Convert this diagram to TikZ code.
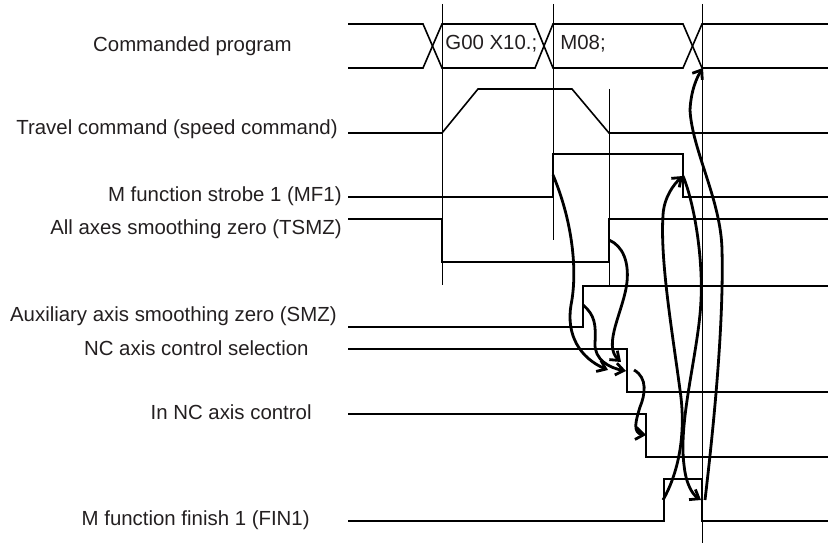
\documentclass[tikz,border=0pt]{standalone}
\usepackage{fontspec}
\setmainfont{Liberation Sans}
\usetikzlibrary{arrows.meta}
\definecolor{ink}{HTML}{231F20}
\tikzset{
  every node/.style={font=\fontsize{10.2}{12}\selectfont,text=ink,inner sep=0pt},
  lbl/.style={anchor=base east},
  val/.style={anchor=base west},
  sig/.style={draw=black,line width=0.8pt},
  guide/.style={draw=black,line width=0.4pt},
  flow/.style={draw=black,line width=1.4pt,-{Straight Barb[length=4pt,width=6pt]}},
}
\begin{document}
\begin{tikzpicture}[x=0.5pt,y=-0.5pt]
\useasboundingbox (0,0) rectangle (828,544);

% signal names
\node[lbl] (prog) at (292,52) {Commanded program};
\node[lbl] (travel) at (338,135) {Travel command (speed command)};
\node[lbl] (mf1) at (342,201.5) {M function strobe 1 (MF1)};
\node[lbl] (tsmz) at (342,234.5) {All axes smoothing zero (TSMZ)};
\node[lbl] (smz) at (337,321.5) {Auxiliary axis smoothing zero (SMZ)};
\node[lbl] (ncsel) at (309,356) {NC axis control selection};
\node[lbl] (innc) at (312,419) {In NC axis control};
\node[lbl] (fin1) at (310,525) {M function finish 1 (FIN1)};

% timing guides
\draw[guide] (442,4) -- (442,285);
\draw[guide] (553,4) -- (553,240);
\draw[guide] (609,89) -- (609,285);
\draw[guide] (702,4) -- (702,543);

% waveforms
\draw[sig] (348,24) -- (423,24) -- (442,68) -- (535,68) -- (553,24) -- (683,24) -- (702,68) -- (828,68);
\draw[sig] (348,68) -- (423,68) -- (442,24) -- (535,24) -- (553,68) -- (683,68) -- (702,24) -- (828,24);
\node[val] (g00) at (445,50) {G00 X10.;};
\node[val] (m08) at (560,50) {M08;};

\draw[sig] (348,133) -- (442,133) -- (478,89) -- (572,89) -- (609,133) -- (828,133);
\draw[sig] (348,197) -- (553,197) -- (553,154) -- (683,154) -- (683,197) -- (828,197);
\draw[sig] (348,219) -- (442,219) -- (442,262) -- (609,262) -- (609,219) -- (828,219);
\draw[sig] (348,327) -- (583,327) -- (583,286) -- (828,286);
\draw[sig] (348,349) -- (627,349) -- (627,392) -- (828,392);
\draw[sig] (348,414) -- (646,414) -- (646,457) -- (828,457);
\draw[sig] (348,521) -- (664,521) -- (664,479) -- (702,479) -- (702,521) -- (828,521);

% edge points
\coordinate (mf1on) at (553,175);
\coordinate (mf1off) at (683,176);
\coordinate (tsmzon) at (609,240);
\coordinate (smzon) at (583,305);
\coordinate (selA) at (608,370);
\coordinate (selB) at (621,362);
\coordinate (selC) at (626,371);
\coordinate (seloff) at (634,370);
\coordinate (inncoff) at (646,435);
\coordinate (fin1on) at (663,500);
\coordinate (fin1in) at (701,500);
\coordinate (fin1off) at (705,500);
\coordinate (nextblk) at (703,68);

% handshakes
\draw[flow] (mf1on) .. controls (572,220) and (578,270) .. (571,305) .. controls (566,335) and (580,358) .. (selA);
\draw[flow] (tsmzon) .. controls (623,246) and (629,262) .. (627,282) .. controls (624,310) and (602,345) .. (selB);
\draw[flow] (smzon) .. controls (595,315) and (596,325) .. (595,343) .. controls (594,360) and (610,368) .. (selC);
\draw[flow] (seloff) .. controls (648,378) and (645,395) .. (640,407) .. controls (636,420) and (632,433) .. (inncoff);
\draw[flow] (fin1on) .. controls (680,470) and (686,430) .. (680,390) .. controls (672,330) and (660,260) .. (663,215) .. controls (664,197) and (674,184) .. (mf1off);
\draw[flow] (mf1off) .. controls (695,205) and (703,260) .. (701,300) .. controls (699,350) and (678,420) .. (684,465) .. controls (686,485) and (693,495) .. (fin1in);
\draw[flow] (fin1off) .. controls (712,440) and (724,330) .. (722,250) .. controls (721,200) and (692,150) .. (690,110) .. controls (691,90) and (697,77) .. (nextblk);

\end{tikzpicture}
\end{document}
